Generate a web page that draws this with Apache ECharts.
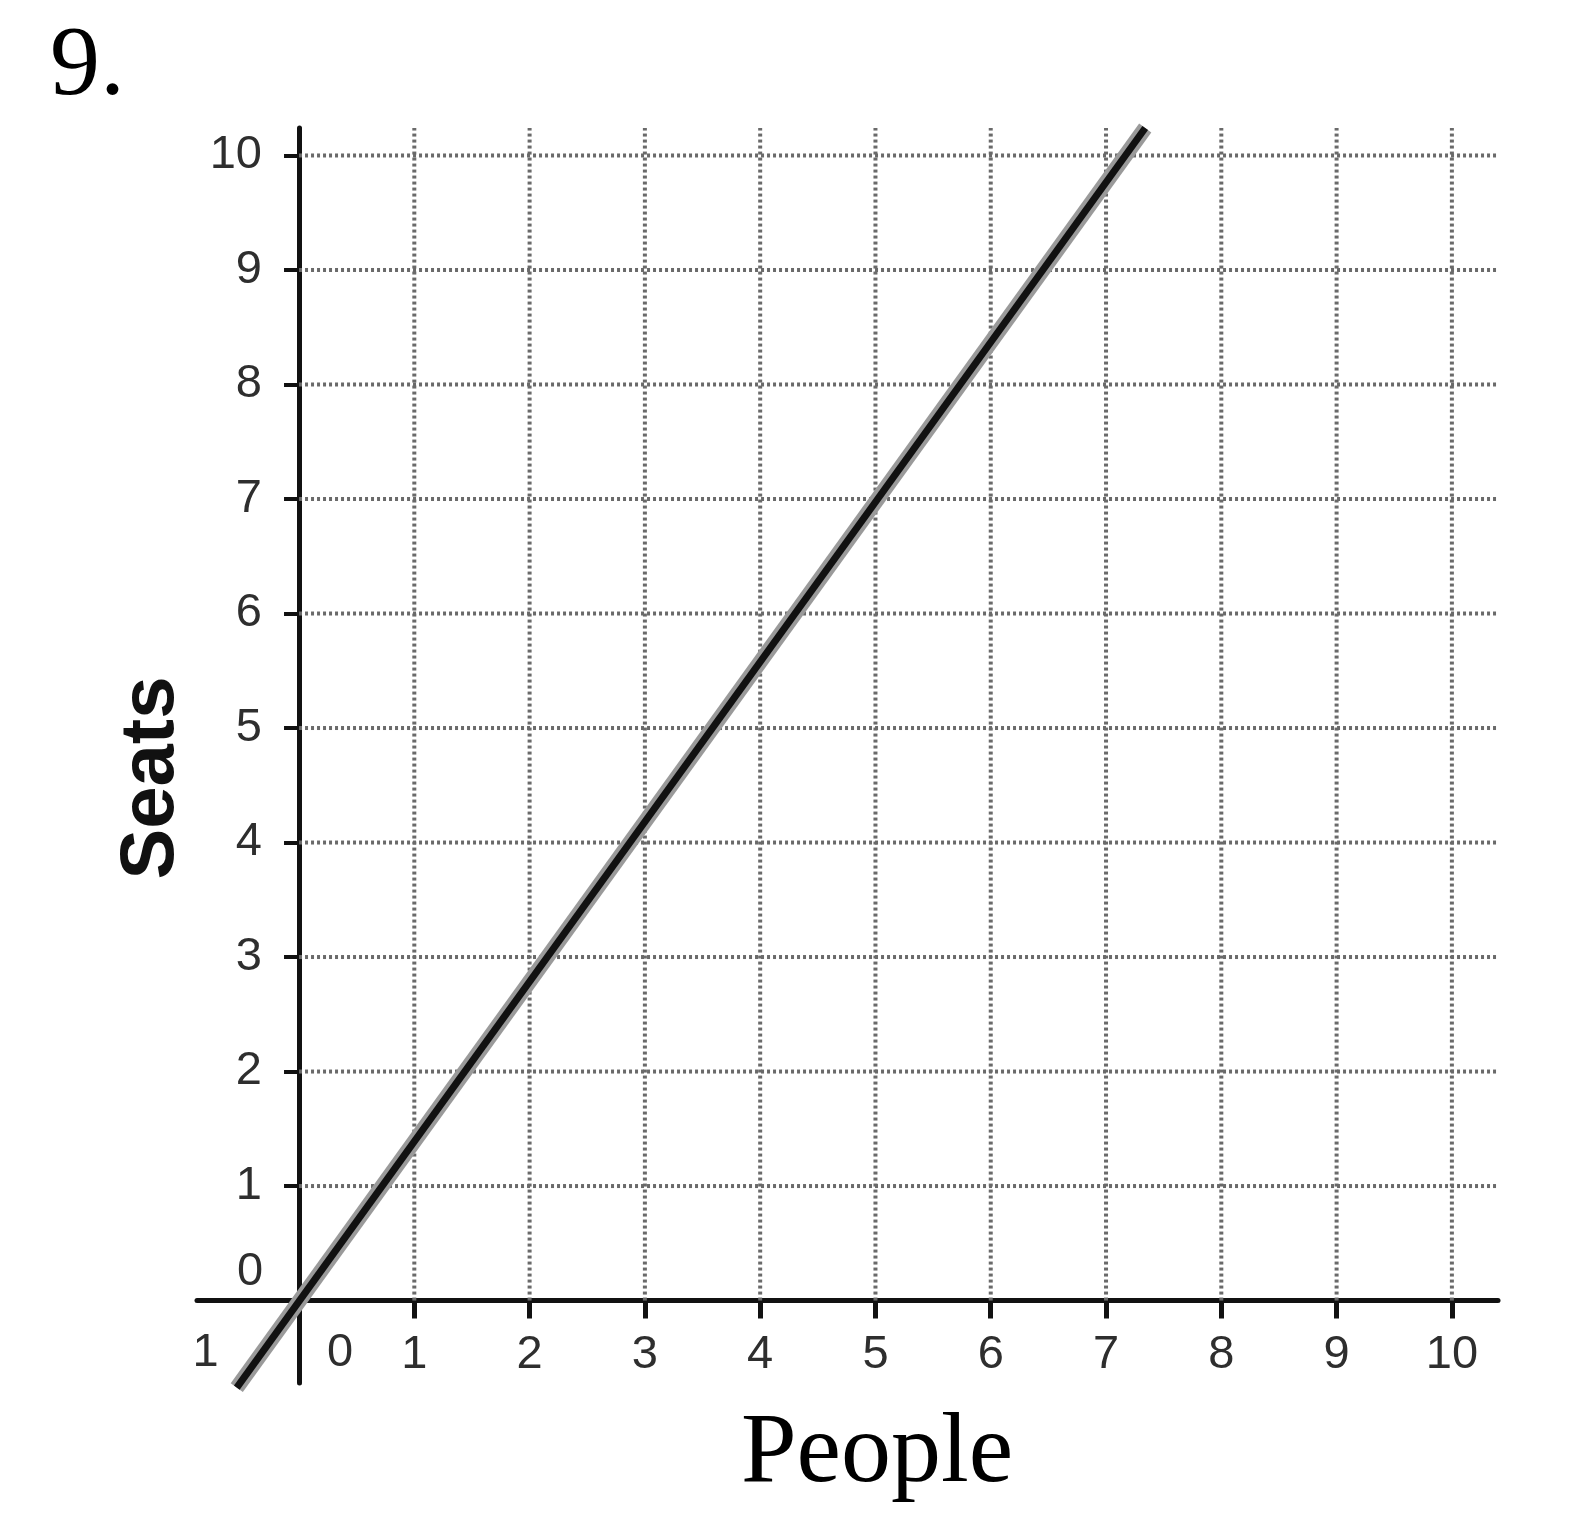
<!DOCTYPE html>
<html>
<head>
<meta charset="utf-8">
<script src="https://cdn.jsdelivr.net/npm/echarts@6/dist/echarts.min.js"></script>
<style>
html,body{margin:0;padding:0;background:#fff;}
#c{width:1596px;height:1515px;}
</style>
</head>
<body>
<div id="c"></div>
<script>
// ---- data ----
const TITLE = '9.';
const X_NAME = 'People';
const Y_NAME = 'Seats';
const xTickValues = [1, 2, 3, 4, 5, 6, 7, 8, 9, 10];
const yTickValues = [1, 2, 3, 4, 5, 6, 7, 8, 9, 10];
const gridXValues = [1, 2, 3, 4, 5, 6, 7, 8, 9, 10];
const gridYValues = [1, 2, 3, 4, 5, 6, 7, 8, 9, 10];
const lineX = [-0.54, 7.34];
const lineY = [-0.76, 10.24];
const extraLabelText = ['1', '0', '0'];
const extraLabelX = [-0.81, 0.355, -0.425];
const extraLabelY = [-0.455, -0.455, 0.245];
const X_MIN = -0.885, X_MAX = 10.4;
const Y_MIN = -0.72, Y_MAX = 10.24;

// ---- build ----
const lineData = lineX.map((x, i) => [x, lineY[i]]);
const gridData = [];
gridXValues.forEach(x => gridData.push([x, 0, x, Y_MAX]));
gridYValues.forEach(y => gridData.push([0, y, X_MAX, y]));
const extraData = extraLabelText.map((t, i) => ({ value: [extraLabelX[i], extraLabelY[i]], name: t }));

const labelFont = { fontFamily: 'Liberation Sans', fontSize: 47, color: '#2e2e2e' };

const chart = echarts.init(document.getElementById('c'), null, { renderer: 'canvas' });
chart.setOption({
  backgroundColor: '#fff',
  animation: false,
  grid: { left: 197, right: 98, top: 128, bottom: 132 },
  xAxis: {
    type: 'value', min: X_MIN, max: X_MAX,
    axisLine: { show: true, onZero: true, lineStyle: { color: '#111', width: 5 } },
    axisTick: { show: true, customValues: xTickValues, length: 18, lineStyle: { color: '#111', width: 5 } },
    axisLabel: Object.assign({ customValues: xTickValues, margin: -51 }, labelFont),
    splitLine: { show: false }
  },
  yAxis: {
    type: 'value', min: Y_MIN, max: Y_MAX,
    axisLine: { show: true, onZero: true, lineStyle: { color: '#111', width: 5 } },
    axisTick: { show: true, customValues: yTickValues, length: 15, lineStyle: { color: '#111', width: 4 } },
    axisLabel: Object.assign({ customValues: yTickValues, margin: -65 }, labelFont),
    splitLine: { show: false }
  },
  series: [
    {
      type: 'custom',
      silent: true,
      z: 1,
      data: gridData,
      renderItem: function (params, api) {
        const p1 = api.coord([api.value(0), api.value(1)]);
        const p2 = api.coord([api.value(2), api.value(3)]);
        return {
          type: 'line',
          shape: { x1: p1[0], y1: p1[1], x2: p2[0], y2: p2[1] },
          style: { stroke: '#6a6a6a', lineWidth: 4, lineDash: [3, 3] }
        };
      }
    },
    {
      type: 'line', data: lineData, symbol: 'none', clip: false, silent: true, z: 3,
      lineStyle: { color: '#9a9a9a', width: 15 }
    },
    {
      type: 'line', data: lineData, symbol: 'none', clip: false, silent: true, z: 4,
      lineStyle: { color: '#111', width: 7 }
    },
    {
      type: 'scatter', data: extraData, symbolSize: 0, silent: true, z: 5,
      itemStyle: { color: '#2e2e2e', opacity: 1 },
      label: Object.assign({ show: true, position: 'inside', formatter: p => p.name, textBorderWidth: 0, opacity: 1 }, labelFont)
    }
  ],
  graphic: [
    { type: 'text', left: 50, top: 18, style: { text: TITLE, font: '100px "Liberation Serif"', fill: '#000' } },
    { type: 'text', x: 877, y: 1455, style: { text: X_NAME, font: '100px "Liberation Serif"', fill: '#000', textAlign: 'center', textVerticalAlign: 'middle' } },
    { type: 'text', x: 152, y: 778, rotation: Math.PI / 2, style: { text: Y_NAME, font: 'bold 76px "Liberation Sans"', fill: '#111', textAlign: 'center', textVerticalAlign: 'middle' } }
  ]
});
</script>
</body>
</html>
